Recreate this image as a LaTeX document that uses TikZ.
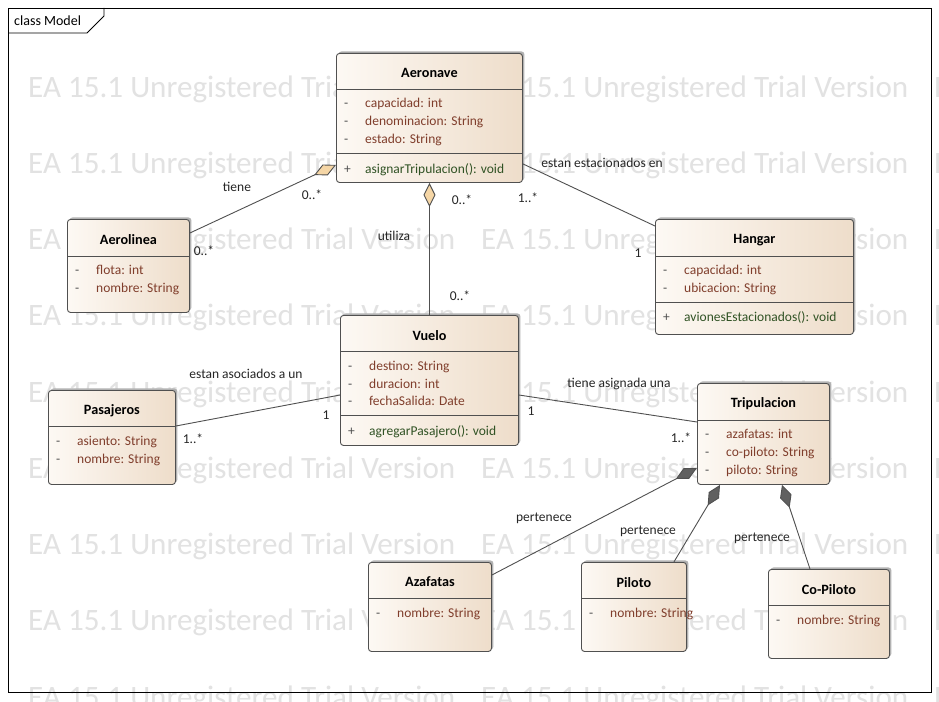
\documentclass[tikz,border=0pt]{standalone}
\usepackage{fontspec}
\setmainfont{Carlito}
\usepackage{xcolor}
\usetikzlibrary{arrows.meta,shadows}

\definecolor{edgegray}{RGB}{80,80,80}
\definecolor{boxleft}{RGB}{253,249,244}
\definecolor{boxright}{RGB}{238,221,202}
\definecolor{attrcol}{RGB}{128,62,44}
\definecolor{opercol}{RGB}{48,82,36}
\definecolor{wmgray}{RGB}{226,226,226}
\definecolor{aggfill}{RGB}{245,214,166}
\definecolor{compfill}{RGB}{96,96,96}

\tikzset{
  classbox/.style={draw=edgegray, line width=0.9, rounded corners=3, left color=boxleft,
    right color=boxright, anchor=north west, inner sep=0,
    general shadow={fill=black!30, shadow xshift=2, shadow yshift=-2}},
  divider/.style={draw=edgegray, line width=0.9},
  classname/.style={font=\fontsize{14.2}{16}\selectfont\bfseries, inner sep=0},
  visib/.style={font=\fontsize{13.5}{15}\selectfont, text=edgegray, anchor=west, inner sep=0, text height=1.3ex, text depth=.3ex},
  attrtext/.style={font=\fontsize{13.5}{15}\selectfont, text=attrcol, anchor=west, inner sep=0, text height=1.3ex, text depth=.3ex},
  opertext/.style={attrtext, text=opercol},
  lbl/.style={font=\fontsize{13.5}{15}\selectfont, text=black!85, inner sep=0},
  assoc/.style={draw=edgegray, line width=0.9},
  aggr/.style={assoc, -{Diamond[length=24, width=12, fill=aggfill]}},
  compo/.style={assoc, -{Diamond[length=24, width=12, fill=compfill]}},
  watermark/.style={text=wmgray, anchor=west, inner sep=0}
}

% one attribute / operation row of a class box
\newcommand{\attrline}[4]{%
  \node[visib] (#1-#2s) at ([xshift=8,yshift=-#3-2]#1.north west) {-};
  \node[attrtext] (#1-#2) at ([xshift=29,yshift=-#3-2]#1.north west) {#4};}
\newcommand{\operline}[4]{%
  \node[visib] (#1-#2s) at ([xshift=8,yshift=-#3-2]#1.north west) {+};
  \node[opertext] (#1-#2) at ([xshift=29,yshift=-#3-2]#1.north west) {#4};}
\newcommand{\hdivider}[2]{%
  \draw[divider] ([yshift=-#2]#1.north west) -- ([yshift=-#2]#1.north east);}

\begin{document}
\begin{tikzpicture}[x=1pt, y=-1pt]
  \useasboundingbox (0,0) rectangle (939,701);
  \clip (0,0) rectangle (939,701);
  \fill[white] (0,0) rectangle (939,701);

  % watermark
  \foreach \r in {0,...,8}
    \foreach \c in {0,1,2}
      \node[watermark] (wm-\r-\c) at (28+453*\c, 89+76.25*\r)
        {\resizebox{427pt}{!}{EA 15.1 Unregistered Trial Version}};

  % frame
  \draw[black, line width=0.9] (8,8) rectangle (931,692);
  \draw[black, line width=0.9] (8,33) -- (87,33) -- (104,16) -- (104,8);
  \node[anchor=west, inner sep=0, font=\fontsize{14}{16}\selectfont] (frametitle) at (14,21) {class Model};

  % classes
  \node[classbox, minimum width=186, minimum height=129] (aeronave) at (336,53) {};
  \node[classname] (aeronave-t) at ([yshift=-20]aeronave.north) {Aeronave};
  \hdivider{aeronave}{36}
  \attrline{aeronave}{a1}{50}{capacidad: int}
  \attrline{aeronave}{a2}{68}{denominacion: String}
  \attrline{aeronave}{a3}{86}{estado: String}
  \hdivider{aeronave}{100}
  \operline{aeronave}{o1}{116}{asignarTripulacion(): void}

  \node[classbox, minimum width=122, minimum height=93] (aerolinea) at (67,219) {};
  \node[classname] (aerolinea-t) at ([yshift=-21]aerolinea.north) {Aerolinea};
  \hdivider{aerolinea}{37}
  \attrline{aerolinea}{a1}{51}{flota: int}
  \attrline{aerolinea}{a2}{69}{nombre: String}

  \node[classbox, minimum width=198, minimum height=115] (hangar) at (655,219) {};
  \node[classname] (hangar-t) at ([yshift=-21]hangar.north) {Hangar};
  \hdivider{hangar}{37}
  \attrline{hangar}{a1}{51}{capacidad: int}
  \attrline{hangar}{a2}{69}{ubicacion: String}
  \hdivider{hangar}{83}
  \operline{hangar}{o1}{98}{avionesEstacionados(): void}

  \node[classbox, minimum width=178, minimum height=130] (vuelo) at (340,315) {};
  \node[classname] (vuelo-t) at ([yshift=-21]vuelo.north) {Vuelo};
  \hdivider{vuelo}{36}
  \attrline{vuelo}{a1}{51}{destino: String}
  \attrline{vuelo}{a2}{69}{duracion: int}
  \attrline{vuelo}{a3}{86}{fechaSalida: Date}
  \hdivider{vuelo}{100}
  \operline{vuelo}{o1}{116}{agregarPasajero(): void}

  \node[classbox, minimum width=127, minimum height=94] (pasajeros) at (48,390) {};
  \node[classname] (pasajeros-t) at ([yshift=-21]pasajeros.north) {Pasajeros};
  \hdivider{pasajeros}{36}
  \attrline{pasajeros}{a1}{51}{asiento: String}
  \attrline{pasajeros}{a2}{69}{nombre: String}

  \node[classbox, minimum width=132, minimum height=101] (tripulacion) at (697,383) {};
  \node[classname] (tripulacion-t) at ([yshift=-21]tripulacion.north) {Tripulacion};
  \hdivider{tripulacion}{37}
  \attrline{tripulacion}{a1}{51}{azafatas: int}
  \attrline{tripulacion}{a2}{69}{co-piloto: String}
  \attrline{tripulacion}{a3}{87}{piloto: String}

  \node[classbox, minimum width=123, minimum height=89] (azafatas) at (368,562) {};
  \node[classname] (azafatas-t) at ([yshift=-20]azafatas.north) {Azafatas};
  \hdivider{azafatas}{36}
  \attrline{azafatas}{a1}{51}{nombre: String}

  \node[classbox, minimum width=105, minimum height=89] (piloto) at (581,562) {};
  \node[classname] (piloto-t) at ([yshift=-21]piloto.north) {Piloto};
  \hdivider{piloto}{36}
  \attrline{piloto}{a1}{51}{nombre: String}

  \node[classbox, minimum width=121, minimum height=89] (copiloto) at (768,569) {};
  \node[classname] (copiloto-t) at ([yshift=-21]copiloto.north) {Co-Piloto};
  \hdivider{copiloto}{36}
  \attrline{copiloto}{a1}{51}{nombre: String}

  % connectors
  \draw[aggr] ([yshift=-14]aerolinea.north east) -- ([yshift=18]aeronave.south west);
  \draw[aggr] (vuelo.north) -- (aeronave.south);
  \draw[assoc] ([yshift=19]aeronave.south east) -- ([yshift=-7]hangar.north west);
  \draw[assoc] ([yshift=-36]pasajeros.north east) -- ([yshift=-80]vuelo.north west);
  \draw[assoc] ([yshift=-80]vuelo.north east) -- ([yshift=-39]tripulacion.north west);
  \draw[compo] ([yshift=-13]azafatas.north east) -- ([yshift=17]tripulacion.south west);
  \draw[compo] ([xshift=-13]piloto.north east) -- ([xshift=23]tripulacion.south west);
  \draw[compo] ([xshift=42]copiloto.north west) -- ([xshift=85]tripulacion.south west);

  % connector labels
  \node[lbl] (l-tiene) at (237,187) {tiene};
  \node[lbl] (m-tiene1) at (312,195) {0..*};
  \node[lbl] (m-tiene2) at (204,251) {0..*};
  \node[lbl] (l-utiliza) at (394,236) {utiliza};
  \node[lbl] (m-utiliza1) at (462,200) {0..*};
  \node[lbl] (m-utiliza2) at (460,296) {0..*};
  \node[lbl] (l-estac) at (602,163) {estan estacionados en};
  \node[lbl] (m-estac1) at (528,198) {1..*};
  \node[lbl] (m-estac2) at (638,253) {1};
  \node[lbl] (l-asoc) at (246,374) {estan asociados a un};
  \node[lbl] (m-asoc1) at (326,415) {1};
  \node[lbl] (m-asoc2) at (193,439) {1..*};
  \node[lbl] (l-asig) at (619,384) {tiene asignada una};
  \node[lbl] (m-asig1) at (531,411) {1};
  \node[lbl] (m-asig2) at (681,438) {1..*};
  \node[lbl] (l-pert1) at (544,518) {pertenece};
  \node[lbl] (l-pert2) at (648,531) {pertenece};
  \node[lbl] (l-pert3) at (762,538) {pertenece};
\end{tikzpicture}
\end{document}
